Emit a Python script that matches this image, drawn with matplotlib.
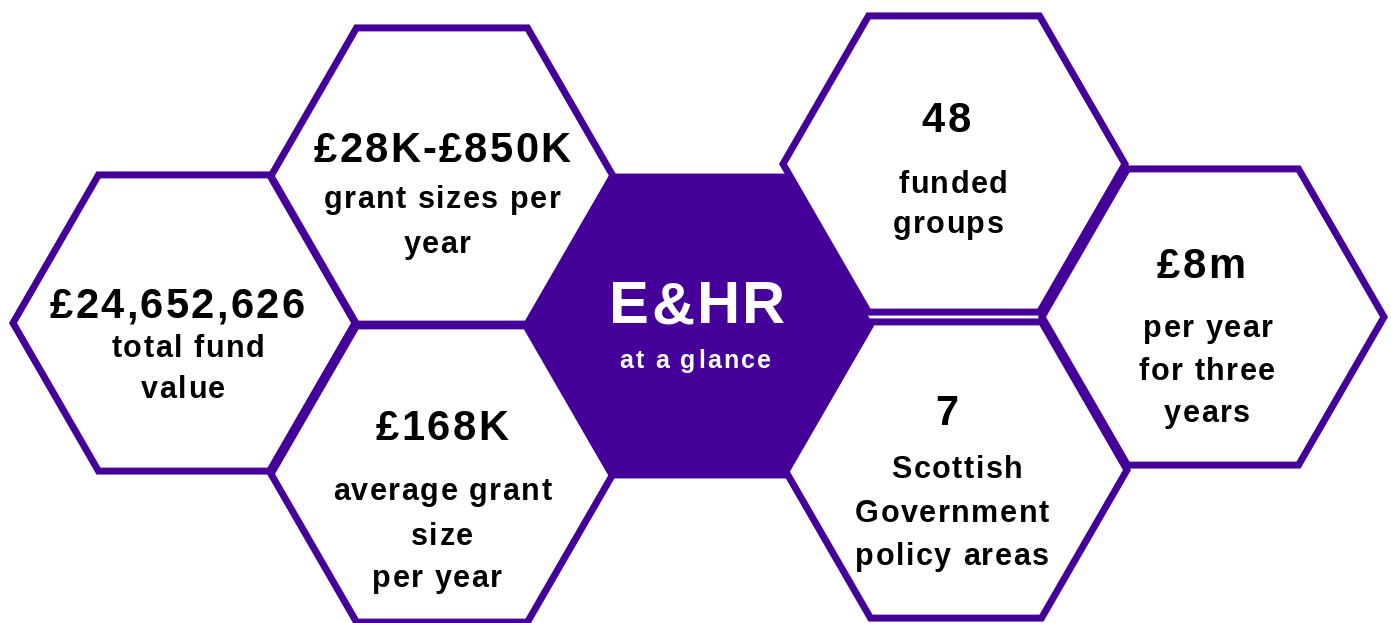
import numpy as np
import matplotlib
matplotlib.use('Agg')
import matplotlib.pyplot as plt
from matplotlib.patches import RegularPolygon
from matplotlib.font_manager import FontProperties, findfont, get_font

PURPLE = '#440099'

# headline numbers and the captions under them
values = ['£24,652,626', '£28K-£850K', '£168K', '48', '7', '£8m']
captions = [
    ['total fund', 'value'],
    ['grant sizes per', 'year'],
    ['average grant', 'size', 'per year'],
    ['funded', 'groups'],
    ['Scottish', 'Government', 'policy areas'],
    ['per year', 'for three', 'years'],
]
title = 'E&HR'
subtitle = 'at a glance'

# layout (pixels, y down)
hex_centers = [(184, 323), (442, 176), (442, 474), (954, 164), (956, 470), (1213, 317)]
hex_r = 171
center_hex = (698, 326)
value_pos = [(177, 318), (442, 162), (442, 440), (946, 132), (947, 425), (1201, 278)]
caption_pos = [
    [(188, 357), (183, 398)],
    [(442, 208), (437, 253)],
    [(442, 500), (442, 545), (437, 587)],
    [(953, 193), (948, 233)],
    [(957, 478), (952, 522), (952, 565)],
    [(1208, 337), (1207, 380), (1207, 422)],
]

W, H = 1391, 623
fig = plt.figure(figsize=(W / 100, H / 100), dpi=100)
ax = fig.add_axes([0, 0, 1, 1])
ax.set_xlim(0, W)
ax.set_ylim(H, 0)
ax.axis('off')


def spaced_text(x, y, s, size, color='black', track=0.05):
    # draw text char by char so letters can be spread out like the original
    fp = FontProperties(family='Liberation Sans', weight='bold', size=size)
    font = get_font(findfont(fp))
    font.set_size(size, 72)
    adv = []
    for c in s:
        g = font.load_char(ord(c))
        adv.append(g.linearHoriAdvance / 65536 * 100 / 72)
    gap = track * size * 100 / 72
    total = sum(adv) + gap * (len(s) - 1)
    xx = x - total / 2
    for c, a in zip(s, adv):
        ax.text(xx, y, c, fontproperties=fp, color=color, ha='left', va='baseline')
        xx += a + gap


for (cx, cy) in hex_centers:
    ax.add_patch(RegularPolygon((cx, cy), 6, radius=hex_r, orientation=np.pi / 6,
                                facecolor='white', edgecolor=PURPLE, linewidth=5,
                                joinstyle='miter'))
ax.add_patch(RegularPolygon(center_hex, 6, radius=hex_r + 1, orientation=np.pi / 6,
                            facecolor=PURPLE, edgecolor=PURPLE, linewidth=5,
                            joinstyle='miter'))

for i in range(len(values)):
    vx, vy = value_pos[i]
    spaced_text(vx, vy, values[i], 30, track=0.055)
    for line, (lx, ly) in zip(captions[i], caption_pos[i]):
        spaced_text(lx, ly, line, 22, track=0.05)

spaced_text(697, 323, title, 43, color='white', track=0.04)
spaced_text(695, 368, subtitle, 18, color='white', track=0.09)

fig.savefig('out.png', dpi=100, facecolor='white')
